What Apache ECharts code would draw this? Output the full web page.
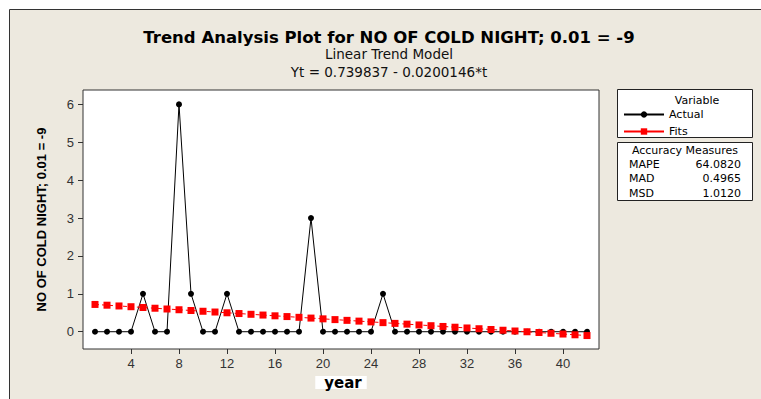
<!DOCTYPE html>
<html>
<head>
<meta charset="utf-8">
<script src="https://cdn.jsdelivr.net/npm/echarts@6/dist/echarts.min.js"></script>
<style>html,body{margin:0;padding:0;background:#fff;}#c{width:761px;height:399px;}</style>
</head>
<body>
<div id="c"></div>
<script>
var titleText = 'Trend Analysis Plot for NO OF COLD NIGHT; 0.01 = -9';
var subLine1 = 'Linear Trend Model';
var subLine2 = 'Yt = 0.739837 - 0.0200146*t';
var yTitle = 'NO OF COLD NIGHT; 0.01 = -9';
var xTitle = 'year';
var years = [1,2,3,4,5,6,7,8,9,10,11,12,13,14,15,16,17,18,19,20,21,22,23,24,25,26,27,28,29,30,31,32,33,34,35,36,37,38,39,40,41,42];
var actual = [0,0,0,0,1,0,0,6,1,0,0,1,0,0,0,0,0,0,3,0,0,0,0,0,1,0,0,0,0,0,0,0,0,0,0,0,0,0,0,0,0,0];
var fits = [0.720,0.700,0.680,0.660,0.640,0.620,0.600,0.580,0.560,0.540,0.520,0.500,0.480,0.460,0.440,0.420,0.400,0.380,0.360,0.340,0.320,0.300,0.280,0.260,0.240,0.220,0.200,0.179,0.159,0.139,0.119,0.099,0.079,0.059,0.039,0.019,-0.001,-0.021,-0.041,-0.061,-0.081,-0.101];
var xTicks = [4,8,12,16,20,24,28,32,36,40];
var yTicks = [0,1,2,3,4,5,6];
var legendNames = ['Actual','Fits'];
var measureNames = ['MAPE','MAD','MSD'];
var measureValues = ['64.0820','0.4965','1.0120'];

var font = 'Liberation Sans, Arial, sans-serif';
var wide = 'DejaVu Sans, Verdana, sans-serif';
var chart = echarts.init(document.getElementById('c'), null, {renderer:'svg'});

function pairs(vals){ return years.map(function(y,i){ return [y, vals[i]]; }); }

var graphics = [
  {type:'rect', shape:{x:9.5,y:9.5,width:760,height:400}, style:{fill:'#EDE9DF', stroke:'#333', lineWidth:1}, z:-10, silent:true},
  {type:'text', x:389, y:37, style:{text:titleText, font:'bold 16.5px '+wide, fill:'#000', align:'center', verticalAlign:'middle'}},
  {type:'text', x:389, y:54, style:{text:subLine1, font:'13.5px '+wide, fill:'#111', align:'center', verticalAlign:'middle'}},
  {type:'text', x:389, y:72, style:{text:subLine2, font:'13.5px '+wide, fill:'#111', align:'center', verticalAlign:'middle'}},
  {type:'rect', shape:{x:617.5,y:89.5,width:135,height:48}, style:{fill:'#fff', stroke:'#222', lineWidth:1}, z:-1},
  {type:'text', x:697, y:100, style:{text:'Variable', font:'11px '+wide, fill:'#000', align:'center', verticalAlign:'middle'}},
  {type:'rect', shape:{x:617.5,y:142.5,width:135,height:58}, style:{fill:'#fff', stroke:'#222', lineWidth:1}, z:-1},
  {type:'text', x:685, y:150, style:{text:'Accuracy Measures', font:'11px '+wide, fill:'#000', align:'center', verticalAlign:'middle'}}
];
measureNames.forEach(function(n,i){
  graphics.push({type:'text', x:629, y:164+i*14.5, style:{text:n, font:'11px '+wide, fill:'#000', align:'left', verticalAlign:'middle'}});
  graphics.push({type:'text', x:741, y:164+i*14.5, style:{text:measureValues[i], font:'11px '+wide, fill:'#000', align:'right', verticalAlign:'middle'}});
});

chart.setOption({
  backgroundColor:'#fff',
  animation:false,
  textStyle:{fontFamily:font},
  graphic:graphics,
  grid:{left:83, top:90, width:516, height:259, show:true, backgroundColor:'#fff', borderColor:'#333', borderWidth:1},
  legend:{
    data:legendNames, orient:'vertical', left:618, top:104, itemWidth:40, itemHeight:8, itemGap:6,
    lineStyle:{type:'solid'},
    textStyle:{fontSize:11, color:'#000', fontFamily:wide}
  },
  xAxis:{
    type:'value', min:0, max:43,
    name:xTitle, nameLocation:'middle', nameGap:27,
    nameTextStyle:{fontSize:15, fontWeight:'bold', color:'#000', backgroundColor:'#fff', padding:[0,5,0,9], lineHeight:13, fontFamily:wide},
    axisLine:{show:false, onZero:false},
    axisTick:{show:true, length:5, inside:false, lineStyle:{color:'#333'}, customValues:xTicks},
    axisLabel:{fontSize:13, color:'#333', margin:8, customValues:xTicks},
    splitLine:{show:false}
  },
  yAxis:{
    type:'value', min:-0.456, max:6.38,
    name:yTitle, nameLocation:'middle', nameGap:35, nameRotate:90,
    nameTextStyle:{fontSize:13, fontWeight:'bold', color:'#000', fontFamily:font},
    axisLine:{show:false, onZero:false},
    axisTick:{show:true, length:5, inside:false, lineStyle:{color:'#333'}, customValues:yTicks},
    axisLabel:{fontSize:13, color:'#333', margin:9, customValues:yTicks},
    splitLine:{show:false}
  },
  series:[
    {name:'Actual', type:'line', data:pairs(actual), symbol:'circle', symbolSize:6,
     itemStyle:{color:'#000'}, lineStyle:{color:'#000', width:1}, z:3},
    {name:'Fits', type:'line', data:pairs(fits), symbol:'rect', symbolSize:7,
     itemStyle:{color:'#FF0000'}, lineStyle:{color:'#FF0000', width:1, type:[4,3]}, z:4}
  ]
});
</script>
</body>
</html>
